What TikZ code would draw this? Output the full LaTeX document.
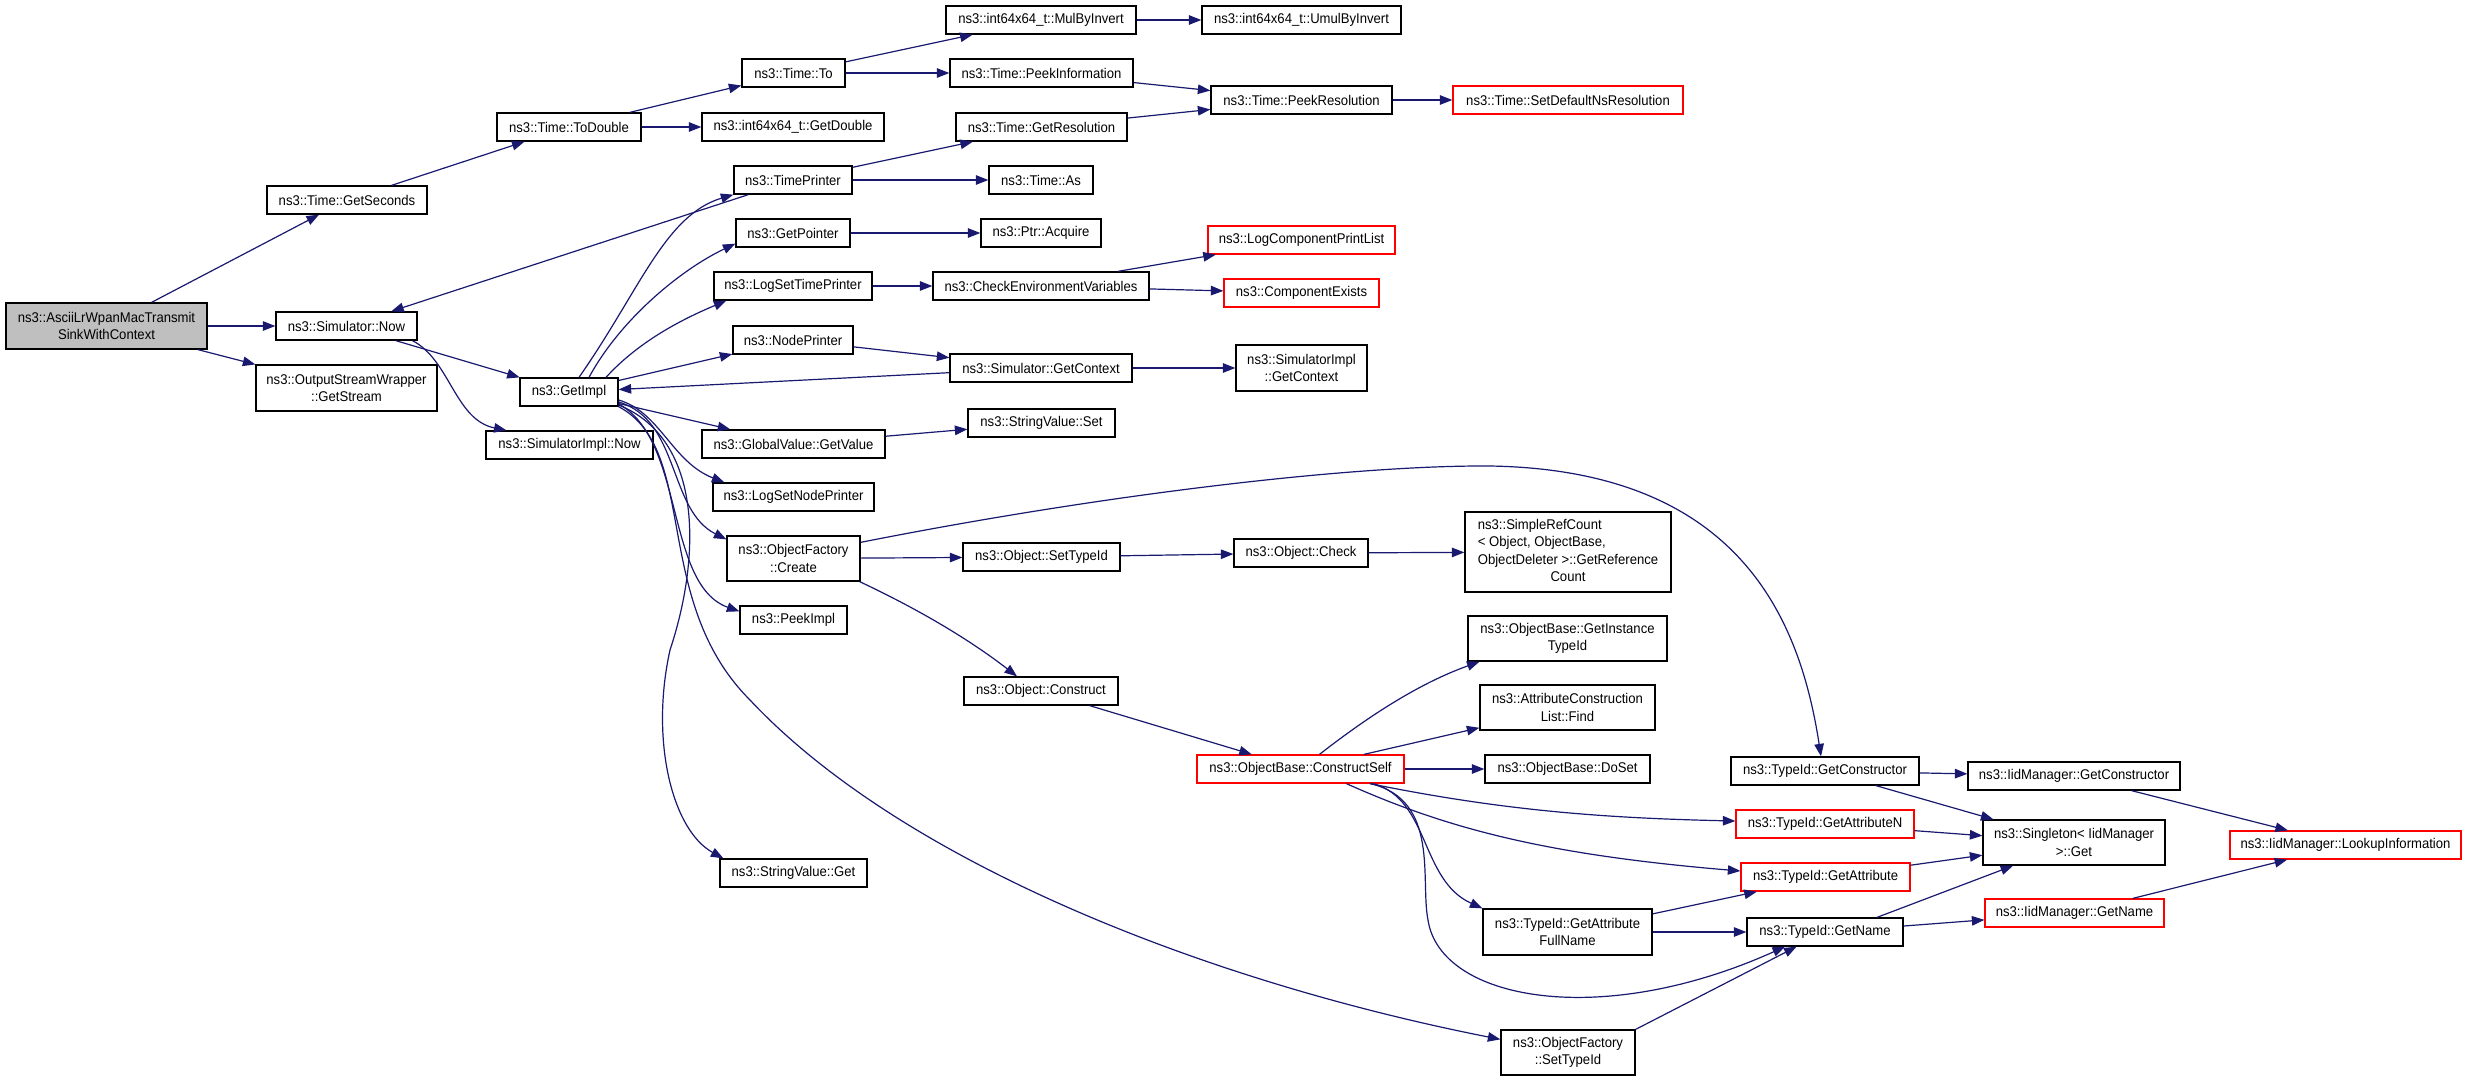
\documentclass[tikz,border=0pt]{standalone}
\usepackage{fontspec}
\setmainfont{Liberation Sans}[FakeStretch=0.93]
\usetikzlibrary{arrows.meta}
\definecolor{edgec}{HTML}{191970}
\definecolor{rootfill}{HTML}{BFBFBF}
\begin{document}
\begin{tikzpicture}[x=1pt,y=-1pt,
  fn/.style={draw=black, line width=1.3pt, fill=white, inner sep=0pt, align=center,
    font={\fontsize{14.1}{17.5}\selectfont}, text=black},
  fnred/.style={fn, draw=red},
  fnroot/.style={fn, fill=rootfill},
  call/.style={draw=edgec, line width=1.2pt, -{Triangle[length=12.5pt,width=9.5pt]}}]
\useasboundingbox (0,0) rectangle (2467,1080);
\fill[white] (0,0) rectangle (2467,1080);

% ---------- nodes ----------
\node[fnroot, minimum width=201pt, minimum height=46pt] (root) at (106.5,326) {ns3::AsciiLrWpanMacTransmit\\SinkWithContext};
\node[fn, minimum width=160pt, minimum height=28pt] (gsec) at (347,200) {ns3::Time::GetSeconds};
\node[fn, minimum width=141pt, minimum height=28pt] (snow) at (346.5,326) {ns3::Simulator::Now};
\node[fn, minimum width=181pt, minimum height=46pt] (osw) at (346.5,388) {ns3::OutputStreamWrapper\\::GetStream};
\node[fn, minimum width=144pt, minimum height=28pt] (todbl) at (569,127) {ns3::Time::ToDouble};
\node[fn, minimum width=98pt, minimum height=28pt] (gimpl) at (569,392) {ns3::GetImpl};
\node[fn, minimum width=167pt, minimum height=28pt] (simnow) at (569.5,445) {ns3::SimulatorImpl::Now};
\node[fn, minimum width=103pt, minimum height=28pt] (timeto) at (793.5,73) {ns3::Time::To};
\node[fn, minimum width=182pt, minimum height=28pt] (getdbl) at (793,127) {ns3::int64x64\_t::GetDouble};
\node[fn, minimum width=118pt, minimum height=28pt] (tprint) at (793,180) {ns3::TimePrinter};
\node[fn, minimum width=114pt, minimum height=28pt] (gptr) at (793,233) {ns3::GetPointer};
\node[fn, minimum width=158pt, minimum height=28pt] (lstp) at (793,286) {ns3::LogSetTimePrinter};
\node[fn, minimum width=120pt, minimum height=28pt] (nprint) at (793,340) {ns3::NodePrinter};
\node[fn, minimum width=183pt, minimum height=28pt] (gval) at (793.5,444) {ns3::GlobalValue::GetValue};
\node[fn, minimum width=161pt, minimum height=28pt] (lsnp) at (793.5,497) {ns3::LogSetNodePrinter};
\node[fn, minimum width=133pt, minimum height=45pt] (ofcreate) at (793.5,558.5) {ns3::ObjectFactory\\::Create};
\node[fn, minimum width=107pt, minimum height=28pt] (peek) at (793.5,620) {ns3::PeekImpl};
\node[fn, minimum width=147pt, minimum height=28pt] (svget) at (793.5,873) {ns3::StringValue::Get};
\node[fn, minimum width=190pt, minimum height=28pt] (mulinv) at (1041,20) {ns3::int64x64\_t::MulByInvert};
\node[fn, minimum width=183pt, minimum height=28pt] (peekinfo) at (1041.5,73) {ns3::Time::PeekInformation};
\node[fn, minimum width=171pt, minimum height=28pt] (getres) at (1041.5,127) {ns3::Time::GetResolution};
\node[fn, minimum width=104pt, minimum height=28pt] (timeas) at (1041,180) {ns3::Time::As};
\node[fn, minimum width=120pt, minimum height=28pt] (acquire) at (1041,233) {ns3::Ptr::Acquire};
\node[fn, minimum width=216pt, minimum height=28pt] (checkenv) at (1041,286) {ns3::CheckEnvironmentVariables};
\node[fn, minimum width=182pt, minimum height=28pt] (sgctx) at (1041,368) {ns3::Simulator::GetContext};
\node[fn, minimum width=147pt, minimum height=28pt] (svset) at (1041.5,423) {ns3::StringValue::Set};
\node[fn, minimum width=157pt, minimum height=28pt] (settid) at (1041.5,557) {ns3::Object::SetTypeId};
\node[fn, minimum width=154pt, minimum height=28pt] (construct) at (1041,691) {ns3::Object::Construct};
\node[fn, minimum width=199pt, minimum height=28pt] (umul) at (1301.5,20) {ns3::int64x64\_t::UmulByInvert};
\node[fn, minimum width=181pt, minimum height=28pt] (peekres) at (1301.5,100) {ns3::Time::PeekResolution};
\node[fnred, minimum width=187pt, minimum height=28pt] (lcpl) at (1301.5,240) {ns3::LogComponentPrintList};
\node[fnred, minimum width=155pt, minimum height=28pt] (cexists) at (1301.5,293) {ns3::ComponentExists};
\node[fn, minimum width=131pt, minimum height=46pt] (sictx) at (1301.5,368) {ns3::SimulatorImpl\\::GetContext};
\node[fn, minimum width=134pt, minimum height=28pt] (check) at (1301,553) {ns3::Object::Check};
\node[fnred, minimum width=207pt, minimum height=28pt] (cself) at (1300.5,769) {ns3::ObjectBase::ConstructSelf};
\node[fnred, minimum width=230pt, minimum height=28pt] (setdef) at (1568,100) {ns3::Time::SetDefaultNsResolution};
\node[fn, minimum width=206pt, minimum height=80pt] (refcnt) at (1568,552) {\begin{tabular}{@{}l@{}}ns3::SimpleRefCount\\< Object, ObjectBase,\\ObjectDeleter >::GetReference\\\multicolumn{1}{@{}c@{}}{Count}\end{tabular}};
\node[fn, minimum width=199pt, minimum height=45pt] (ginst) at (1567.5,638.5) {ns3::ObjectBase::GetInstance\\TypeId};
\node[fn, minimum width=175pt, minimum height=45pt] (acfind) at (1567.5,707.5) {ns3::AttributeConstruction\\List::Find};
\node[fn, minimum width=165pt, minimum height=28pt] (doset) at (1567.5,769) {ns3::ObjectBase::DoSet};
\node[fn, minimum width=169pt, minimum height=46pt] (gafull) at (1567.5,932) {ns3::TypeId::GetAttribute\\FullName};
\node[fn, minimum width=134pt, minimum height=45pt] (ofsettid) at (1568,1052.5) {ns3::ObjectFactory\\::SetTypeId};
\node[fn, minimum width=188pt, minimum height=28pt] (tgctor) at (1825,771) {ns3::TypeId::GetConstructor};
\node[fnred, minimum width=178pt, minimum height=28pt] (tgattrn) at (1825,824) {ns3::TypeId::GetAttributeN};
\node[fnred, minimum width=169pt, minimum height=28pt] (tgattr) at (1825.5,877) {ns3::TypeId::GetAttribute};
\node[fn, minimum width=156pt, minimum height=28pt] (tgname) at (1825,932) {ns3::TypeId::GetName};
\node[fn, minimum width=212pt, minimum height=28pt] (igctor) at (2074,776) {ns3::IidManager::GetConstructor};
\node[fn, minimum width=182pt, minimum height=45pt] (singget) at (2074,842.5) {ns3::Singleton< IidManager\\>::Get};
\node[fnred, minimum width=179pt, minimum height=28pt] (igname) at (2074.5,913) {ns3::IidManager::GetName};
\node[fnred, minimum width=231pt, minimum height=28pt] (lookup) at (2345.5,845) {ns3::IidManager::LookupInformation};

% ---------- straight connectors ----------
\draw[call] (root) -- (gsec);
\draw[call] (root) -- (snow);
\draw[call] (root) -- (osw);
\draw[call] (gsec) -- (todbl);
\draw[call] (todbl) -- (timeto);
\draw[call] (todbl) -- (getdbl);
\draw[call] (timeto) -- (mulinv);
\draw[call] (timeto) -- (peekinfo);
\draw[call] (mulinv) -- (umul);
\draw[call] (peekinfo) -- (peekres);
\draw[call] (getres) -- (peekres);
\draw[call] (peekres) -- (setdef);
\draw[call] (tprint) -- (getres);
\draw[call] (tprint) -- (timeas);
\draw[call] (tprint) -- (snow);
\draw[call] (gptr) -- (acquire);
\draw[call] (lstp) -- (checkenv);
\draw[call] ([xshift=77pt]checkenv.north) -- (lcpl);
\draw[call] (checkenv) -- (cexists);
\draw[call] (nprint) -- (sgctx);
\draw[call] (sgctx) -- (sictx);
\draw[call] (sgctx) -- (gimpl);
\draw[call] (snow) -- (gimpl);
\draw[call] (gimpl) -- (nprint);
\draw[call] (gimpl) -- (gval);
\draw[call] (gval) -- (svset);
\draw[call] (ofcreate) -- (settid);
\draw[call] (settid) -- (check);
\draw[call] (check) -- (refcnt);
\draw[call] (construct) -- (cself);
\draw[call] (cself) -- (acfind);
\draw[call] (cself) -- (doset);
\draw[call] (ofsettid.north east) -- (tgname);
\draw[call] (gafull) -- (tgattr);
\draw[call] (gafull) -- (tgname);
\draw[call] (tgctor) -- (igctor);
\draw[call] (tgctor) -- (singget);
\draw[call] (tgattrn) -- (singget);
\draw[call] (tgattr) -- (singget);
\draw[call] ([xshift=52pt]tgname.north) -- (singget);
\draw[call] (tgname) -- (igname);
\draw[call] (igctor) -- (lookup);
\draw[call] (igname) -- (lookup);

% ---------- curved connectors ----------
\draw[call] ([xshift=66pt]snow.south) .. controls (450,360) and (455,420) .. ([xshift=-63pt]simnow.north);
\draw[call] ([xshift=10pt]gimpl.north) .. controls (640,290) and (665,215) .. (tprint.south west);
\draw[call] ([xshift=20pt]gimpl.north) .. controls (620,320) and (680,270) .. ([yshift=4pt]gptr.south west);
\draw[call] ([xshift=37pt]gimpl.north) .. controls (640,340) and (685,318) .. ([xshift=13pt]lstp.south west);
\draw[call] ([yshift=-8pt]gimpl.east) .. controls (660,412) and (672,462) .. ([xshift=12pt]lsnp.north west);
\draw[call] ([yshift=-10pt]gimpl.east) .. controls (680,420) and (668,510) .. ([yshift=-4pt]ofcreate.north west);
\draw[call] ([yshift=-12pt]gimpl.east) .. controls (685,440) and (665,585) .. ([yshift=-6pt]peek.north west);
\draw[call] ([yshift=-13pt]gimpl.east) .. controls (705,440) and (700,560) .. (670,650)
  .. controls (650,740) and (672,830) .. ([xshift=4pt]svget.north west);
\draw[call] (gimpl.south east) .. controls (700,450) and (650,600) .. (750,700)
  .. controls (900,860) and (1200,980) .. ([yshift=-10pt]ofsettid.north west);
\draw[call] ([xshift=-1pt]ofcreate.south east) .. controls (920,610) and (970,640) .. ([xshift=-24pt]construct.north);
\draw[call] ([yshift=-7pt]ofcreate.north east) .. controls (1100,495) and (1350,465) .. (1490,466)
  .. controls (1740,470) and (1800,620) .. ([xshift=-4pt]tgctor.north);
\draw[call] ([xshift=19pt]cself.north) .. controls (1370,715) and (1420,683) .. ([xshift=-88pt]ginst.south);
\draw[call] ([xshift=69.5pt]cself.south) .. controls (1500,810) and (1600,818) .. ([yshift=3pt]tgattrn.west);
\draw[call] ([xshift=46pt]cself.south) .. controls (1450,830) and (1550,855) .. ([yshift=6pt]tgattr.west);
\draw[call] ([xshift=73pt]cself.south) .. controls (1430,800) and (1420,880) .. (gafull.north west);
\draw[call] ([xshift=70pt]cself.south) .. controls (1440,800) and (1420,880) .. (1428,920)
  .. controls (1440,1000) and (1600,1030) .. ([xshift=-40pt]tgname.south);
\end{tikzpicture}
\end{document}
